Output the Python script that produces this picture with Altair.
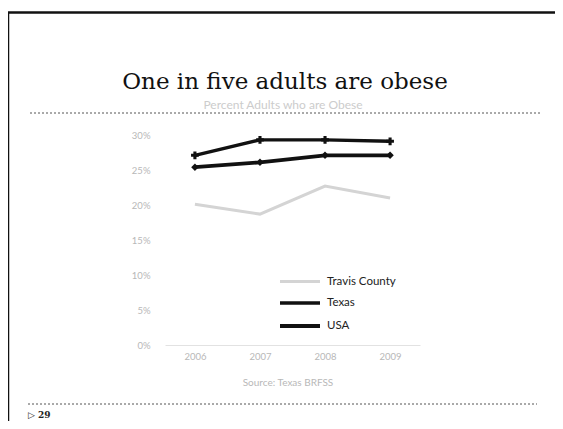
import altair as alt
import pandas as pd

years = ["2006", "2007", "2008", "2009"]
travis = [20.1, 18.7, 22.7, 21.0]
texas = [27.1, 29.3, 29.3, 29.1]
usa = [25.4, 26.1, 27.1, 27.1]
series = ["Travis County", "Texas", "USA"]
series_colors = ["#d4d4d4", "#111111", "#111111"]
y_ticks = [0, 5, 10, 15, 20, 25, 30]

slide_title = "One in five adults are obese"
chart_title = "Percent Adults who are Obese"
source_text = "Source: Texas BRFSS"
slide_number = "\u25b7 29"

rows = []
for name, vals in zip(series, [travis, texas, usa]):
    for yr, v in zip(years, vals):
        rows.append({"year": yr, "pct": v, "series": name})
df = pd.DataFrame(rows)

faint = "#b8b8b8"

x = alt.X("year:O", scale=alt.Scale(type="point", padding=0.46),
          axis=alt.Axis(title=None, labelAngle=0, ticks=False, domainColor="#e2e2e2",
                        labelColor=faint, labelFontSize=9.5, labelPadding=6,
                        labelFont="Lato"))
y = alt.Y("pct:Q", scale=alt.Scale(domain=[0, 30], nice=False),
          axis=alt.Axis(values=y_ticks, labelExpr="datum.value + '%'", title=None,
                        domain=False, ticks=False, grid=False, labelColor=faint,
                        labelPadding=15, labelFontSize=9.5, labelFont="Lato"))
color = alt.Color("series:N", scale=alt.Scale(domain=series, range=series_colors),
                  sort=series,
                  legend=alt.Legend(title=None, orient="none", legendX=128, legendY=140,
                                    symbolType="M-4,0L4,0", symbolSize=100,
                                    symbolStrokeWidth=3.5, labelOffset=20,
                                    labelFont="Lato", labelFontSize=11.5,
                                    labelColor="#222222", rowPadding=8))

base = alt.Chart(df)
lines = base.mark_line().encode(
    x=x, y=y, color=color,
    strokeWidth=alt.StrokeWidth("series:N", scale=alt.Scale(domain=series, range=[3, 3.8, 3.8]),
                                legend=None),
)
tx_points = base.transform_filter(alt.datum.series == "Texas").mark_point(
    filled=True, size=60, shape="cross", color="#111111", opacity=1).encode(x=x, y=y)
us_points = base.transform_filter(alt.datum.series == "USA").mark_point(
    filled=True, size=55, shape="diamond", color="#111111", opacity=1).encode(x=x, y=y)

one = pd.DataFrame({"a": [0]})

def label(text, xv, yv, size, color, font, align="center", weight="normal"):
    return alt.Chart(one).mark_text(text=text, fontSize=size, color=color, font=font,
                                    align=align, baseline="middle", fontWeight=weight).encode(
        x=alt.value(xv), y=alt.value(yv))

def rule(x1, x2, y1, y2, dash=None, width=1, color="#333333"):
    kw = dict(strokeWidth=width, color=color)
    if dash:
        kw["strokeDash"] = dash
    return alt.Chart(one).mark_rule(**kw).encode(
        x=alt.value(x1), x2=alt.value(x2), y=alt.value(y1), y2=alt.value(y2))

decor = [
    rule(-157, 400, -122.5, -122.5, width=2.5, color="#111111"),
    rule(-157, -157, -123, 290, width=2.5, color="#111111"),
    rule(-135, 375, -22, -22, dash=[2, 2], color="#555555"),
    rule(-137, 372, 269, 269, dash=[2, 2], color="#555555"),
    label(slide_title, 120, -53, 23, "#111111", "DejaVu Serif"),
    label(chart_title, 118, -30, 12, "#cccccc", "Lato"),
    label(source_text, 123, 248, 10, faint, "Lato"),
    label(slide_number, -137, 280, 9, "#222222", "DejaVu Serif", align="left", weight="bold"),
]

chart = alt.layer(lines, tx_points, us_points, *decor).properties(
    width=255, height=210,
    autosize=alt.AutoSizeParams(type="none"),
    padding={"left": 157, "top": 127, "right": 135, "bottom": 76},
    background="white",
).configure_view(stroke=None)

chart.save("out.html", embed_options={"renderer": "svg", "actions": False})
